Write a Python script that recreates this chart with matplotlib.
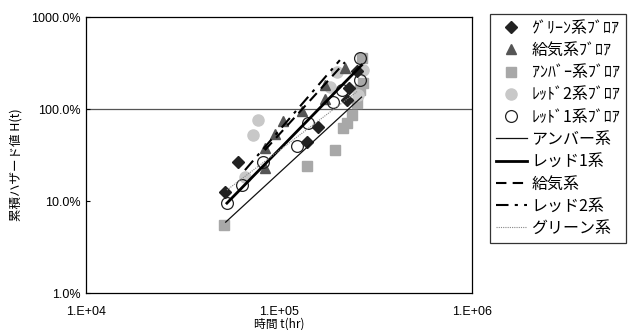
import numpy as np
import matplotlib
matplotlib.use("Agg")
import matplotlib.pyplot as plt
from matplotlib.ticker import FixedLocator, FuncFormatter

plt.rcParams['font.family'] = ['Noto Sans CJK JP', 'DejaVu Sans']

# plotted points: time t(hr), cumulative hazard H(t) (1.0 = 100%)
green_t = [5.25e4, 6.13e4, 1.40e5, 1.59e5, 2.25e5, 2.31e5, 2.54e5]
green_h = [0.125, 0.265, 0.438, 0.637, 1.25, 1.69, 2.59]

supply_t = [8.46e4, 8.46e4, 9.53e4, 1.05e5, 1.32e5, 1.73e5, 1.73e5, 2.20e5]
supply_h = [0.229, 0.377, 0.535, 0.741, 0.95, 1.28, 1.82, 2.79]

amber_t = [5.19e4, 1.40e5, 1.95e5, 2.15e5, 2.25e5, 2.39e5, 2.54e5, 2.63e5, 2.72e5, 2.68e5]
amber_h = [0.0548, 0.24, 0.358, 0.62, 0.705, 0.86, 1.16, 1.61, 1.92, 3.58]

red2_t = [6.67e4, 7.33e4, 7.78e4, 1.84e5, 2.00e5, 2.58e5, 2.72e5]
red2_h = [0.182, 0.52, 0.76, 1.73, 2.53, 1.42, 2.65]

red1_t = [5.38e4, 6.43e4, 8.26e4, 1.24e5, 1.41e5, 1.90e5, 2.12e5, 2.63e5, 2.63e5]
red1_h = [0.095, 0.149, 0.265, 0.396, 0.705, 1.19, 1.61, 2.07, 3.58]

# fitted lines: start / end time and hazard
amber_line_t = [5.3e4, 2.68e5]
amber_line_h = [0.059, 1.35]
red1_line_t = [5.38e4, 2.68e5]
red1_line_h = [0.095, 3.0]
supply_line_t = [8.46e4, 2.20e5]
supply_line_h = [0.358, 3.24]
red2_line_t = [6.67e4, 2.07e5]
red2_line_h = [0.217, 3.41]
green_line_t = [5.38e4, 2.54e5]
green_line_h = [0.132, 1.55]

x_ticks = [1e4, 1e5, 1e6]
x_tick_labels = ["1.E+04", "1.E+05", "1.E+06"]
y_ticks = [0.01, 0.1, 1.0, 10.0]


def create_graph():
    """
    - Args:
    - Returns:
    """
    fig = plt.figure(figsize=(6.36, 3.30), dpi=100)
    ax = fig.add_axes([0.135, 0.112, 0.607, 0.836])
    ax.set_xscale("log")
    ax.set_yscale("log")
    ax.set_xlim(1e4, 1e6)
    ax.set_ylim(0.01, 10.0)

    ax.axhline(1.0, color="#555555", lw=0.9, zorder=1)

    ax.plot(green_t, green_h, "D", ms=6, color="#222222", mec="#222222",
            label="ｸﾞﾘｰﾝ系ﾌﾞﾛｱ", zorder=3)
    ax.plot(supply_t, supply_h, "^", ms=7, color="#555555", mec="#555555",
            label="給気系ﾌﾞﾛｱ", zorder=3)
    ax.plot(amber_t, amber_h, "s", ms=7.5, color="#a8a8a8", mec="#a8a8a8",
            label="ｱﾝﾊﾞｰ系ﾌﾞﾛｱ", zorder=2)
    ax.plot(red2_t, red2_h, "o", ms=8, color="#c8c8c8", mec="#c8c8c8",
            label="ﾚｯﾄﾞ2系ﾌﾞﾛｱ", zorder=2)
    ax.plot(red1_t, red1_h, "o", ms=8.5, mfc="none", mec="#222222", mew=0.9,
            label="ﾚｯﾄﾞ1系ﾌﾞﾛｱ", zorder=4)

    ax.plot(amber_line_t, amber_line_h, "-", color="#111111", lw=0.9,
            label="アンバー系", zorder=5)
    ax.plot(red1_line_t, red1_line_h, "-", color="#000000", lw=2.0,
            label="レッド1系", zorder=5)
    ax.plot(supply_line_t, supply_line_h, color="#000000", lw=1.5,
            dashes=(5, 3), label="給気系", zorder=5)
    ax.plot(red2_line_t, red2_line_h, color="#000000", lw=1.5,
            dashes=(6, 3, 1.5, 3), label="レッド2系", zorder=5)
    ax.plot(green_line_t, green_line_h, color="#888888", lw=0.8,
            dashes=(1, 1), label="グリーン系", zorder=5)

    ax.xaxis.set_major_locator(FixedLocator(x_ticks))
    ax.xaxis.set_minor_locator(FixedLocator([]))
    ax.set_xticklabels(x_tick_labels)
    ax.yaxis.set_major_locator(FixedLocator(y_ticks))
    ax.yaxis.set_minor_locator(FixedLocator([]))
    ax.yaxis.set_major_formatter(FuncFormatter(lambda v, p: f"{v * 100:.1f}%"))
    ax.tick_params(axis="both", direction="in", length=3, labelsize=9,
                   labelfontfamily="Liberation Sans")
    ax.tick_params(axis="x", length=0, pad=9)
    for sp in ax.spines.values():
        sp.set_linewidth(0.9)

    ax.set_xlabel("時間 t(hr)", fontsize=8.5)
    ax.xaxis.set_label_coords(0.5, -0.088)
    ax.set_ylabel("累積ハザード値 H(t)", fontsize=9)
    ax.yaxis.set_label_coords(-0.163, 0.464)

    leg = fig.legend(loc="upper left", bbox_to_anchor=(0.7704, 0.9576),
                     borderaxespad=0, fontsize=11.5, frameon=True,
                     fancybox=False, edgecolor="black", handlelength=1.95,
                     labelspacing=0.33, borderpad=0.35, handletextpad=0.3)
    leg.get_frame().set_linewidth(0.9)

    fig.savefig("out.png", dpi=100)


def main():
    """
    - Args:
    - Returns:
    """
    create_graph()


if __name__ == '__main__':
    main()
